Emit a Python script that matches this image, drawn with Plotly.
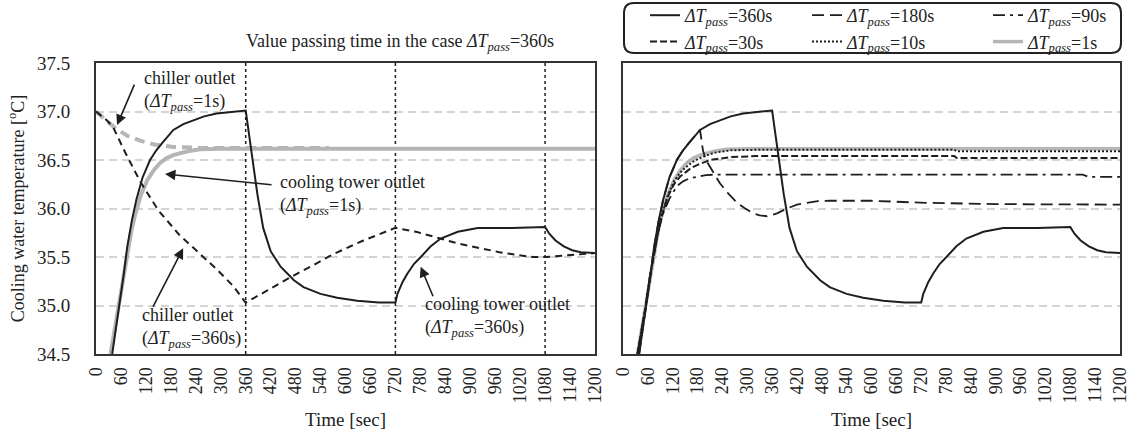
import plotly.graph_objects as go

# ---------------- data ----------------
# cooling tower outlet, dT_pass = 360 s
t_ct360 = [39, 48, 57, 66, 75, 86, 97, 112, 130, 145, 160, 186, 210, 234, 260, 290, 330, 360, 362, 375, 388, 402, 420, 444, 476, 499, 540, 580, 628, 680, 720,
           725, 737, 749, 765, 781, 805, 829, 870, 918, 1000, 1080, 1090, 1105, 1125, 1145, 1166, 1200]
T_ct360 = [34.5, 34.75, 35.0, 35.3, 35.6, 35.87, 36.09, 36.32, 36.5, 36.6, 36.68, 36.81, 36.87, 36.91, 36.95, 36.98, 37.0, 37.01, 36.95, 36.55, 36.15, 35.8, 35.56, 35.4, 35.26, 35.19, 35.12, 35.08, 35.05, 35.03, 35.03,
           35.12, 35.24, 35.33, 35.43, 35.5, 35.61, 35.69, 35.76, 35.8, 35.8, 35.81, 35.74, 35.67, 35.61, 35.57, 35.55, 35.54]
# chiller outlet, dT_pass = 360 s
t_ch360 = [0, 26, 41, 70, 106, 150, 200, 250, 291, 330, 360, 410, 467, 520, 571, 643, 720, 770, 822, 870, 925, 970, 1014, 1050, 1082, 1140, 1200]
T_ch360 = [37.0, 36.91, 36.84, 36.58, 36.28, 35.98, 35.73, 35.53, 35.37, 35.2, 35.03, 35.15, 35.29, 35.41, 35.53, 35.67, 35.8, 35.76, 35.7, 35.64, 35.59, 35.55, 35.52, 35.5, 35.5, 35.52, 35.54]
# chiller outlet, dT_pass = 1 s
t_ch1 = [0, 20, 46, 75, 106, 140, 186, 250, 560]
T_ch1 = [37.0, 36.92, 36.83, 36.75, 36.7, 36.66, 36.635, 36.625, 36.625]
# cooling tower outlet, dT_pass = 1 s
t_ct1 = [35, 45, 55, 65, 75, 85, 95, 108, 123, 138, 154, 170, 186, 220, 251, 300, 1200]
T_ct1 = [34.5, 34.75, 35.0, 35.3, 35.55, 35.77, 35.95, 36.14, 36.29, 36.39, 36.47, 36.52, 36.55, 36.59, 36.61, 36.615, 36.615]
# cooling tower outlet, dT_pass = 180 s
t_ct180 = [39, 48, 57, 66, 75, 86, 97, 112, 130, 145, 160, 186, 193, 200, 210, 222, 234, 255, 275, 295, 314, 330, 348, 372, 396, 420, 444, 470, 500, 600, 717, 900, 1200]
T_ct180 = [34.5, 34.75, 35.0, 35.3, 35.6, 35.87, 36.09, 36.32, 36.5, 36.6, 36.68, 36.81, 36.6, 36.5, 36.43, 36.34, 36.26, 36.15, 36.06, 36.0, 35.95, 35.93, 35.92, 35.95, 36.0, 36.04, 36.06, 36.075, 36.08, 36.08, 36.06, 36.045, 36.04]
# cooling tower outlet, dT_pass = 90 s
t_ct90 = [35, 45, 55, 65, 75, 85, 95, 112, 130, 145, 160, 180, 200, 230, 260, 1110, 1125, 1200]
T_ct90 = [34.5, 34.75, 35.0, 35.3, 35.55, 35.76, 35.93, 36.1, 36.23, 36.28, 36.31, 36.33, 36.345, 36.35, 36.35, 36.35, 36.325, 36.325]
# cooling tower outlet, dT_pass = 30 s
t_ct30 = [35, 45, 55, 65, 75, 85, 95, 108, 123, 138, 150, 165, 180, 210, 260, 320, 800, 806, 1200]
T_ct30 = [34.5, 34.75, 35.0, 35.3, 35.55, 35.76, 35.94, 36.12, 36.25, 36.33, 36.37, 36.42, 36.45, 36.5, 36.53, 36.54, 36.54, 36.52, 36.52]
# cooling tower outlet, dT_pass = 10 s
t_ct10 = [35, 45, 55, 65, 75, 85, 95, 108, 123, 138, 150, 168, 186, 220, 260, 320, 800, 806, 1200]
T_ct10 = [34.5, 34.75, 35.0, 35.3, 35.55, 35.77, 35.95, 36.13, 36.28, 36.37, 36.42, 36.48, 36.52, 36.575, 36.6, 36.605, 36.605, 36.59, 36.59]

pass_times = [360, 720, 1080]
x_ticks = list(range(0, 1201, 60))
y_ticks = [34.5, 35.0, 35.5, 36.0, 36.5, 37.0, 37.5]

# ---------------- styles ----------------
FONT = "Liberation Serif"
BLACK = "#1e1e1e"
GRAY = "#b5b5b5"
GRID = "#d4d4d4"

def lab(v):
    return "<i>ΔT<sub>pass</sub></i>=" + v

fig = go.Figure()

# ---- left panel ----
vx, vy = [], []
for p in pass_times:
    vx += [p, p, None]
    vy += [34.5, 37.5, None]
fig.add_trace(go.Scatter(x=vx, y=vy, mode="lines", line=dict(color=BLACK, width=1.5, dash="dot"),
                         showlegend=False, hoverinfo="skip", xaxis="x", yaxis="y"))
fig.add_trace(go.Scatter(x=t_ct1, y=T_ct1, mode="lines", line=dict(color=GRAY, width=4),
                         showlegend=False, xaxis="x", yaxis="y"))
fig.add_trace(go.Scatter(x=t_ch1, y=T_ch1, mode="lines", line=dict(color=GRAY, width=4, dash="10px,6px"),
                         showlegend=False, xaxis="x", yaxis="y"))
fig.add_trace(go.Scatter(x=t_ch360, y=T_ch360, mode="lines", line=dict(color=BLACK, width=2, dash="7px,5px"),
                         showlegend=False, xaxis="x", yaxis="y"))
fig.add_trace(go.Scatter(x=t_ct360, y=T_ct360, mode="lines", line=dict(color=BLACK, width=2),
                         showlegend=False, xaxis="x", yaxis="y"))
fig.add_trace(go.Scatter(x=pass_times, y=[37.59] * len(pass_times), mode="markers",
                         marker=dict(symbol="triangle-down", size=14, color=BLACK),
                         cliponaxis=False, showlegend=False, xaxis="x", yaxis="y"))

# ---- right panel ----
fig.add_trace(go.Scatter(x=t_ct1, y=T_ct1, mode="lines", name=lab("1s"), legend="legend3",
                         line=dict(color=GRAY, width=3.5), xaxis="x2", yaxis="y2"))
fig.add_trace(go.Scatter(x=t_ct10, y=T_ct10, mode="lines", name=lab("10s"), legend="legend2",
                         line=dict(color=BLACK, width=2, dash="2px,2px"), xaxis="x2", yaxis="y2"))
fig.add_trace(go.Scatter(x=t_ct30, y=T_ct30, mode="lines", name=lab("30s"), legend="legend",
                         line=dict(color=BLACK, width=2, dash="7px,3px"), xaxis="x2", yaxis="y2"))
fig.add_trace(go.Scatter(x=t_ct90, y=T_ct90, mode="lines", name=lab("90s"), legend="legend3",
                         line=dict(color=BLACK, width=1.8, dash="12px,5px,3px,5px"), xaxis="x2", yaxis="y2"))
fig.add_trace(go.Scatter(x=t_ct180, y=T_ct180, mode="lines", name=lab("180s"), legend="legend2",
                         line=dict(color=BLACK, width=1.8, dash="12px,6px"), xaxis="x2", yaxis="y2"))
fig.add_trace(go.Scatter(x=t_ct360, y=T_ct360, mode="lines", name=lab("360s"), legend="legend",
                         line=dict(color=BLACK, width=2), xaxis="x2", yaxis="y2"))

W, H = 1137, 436
ML, MR, MT, MB = 96, 17, 63, 82
PW = W - ML - MR
PH = H - MT - MB

def px2paper_x(px):          # screen px -> paper
    return (px - ML) / PW

def px2paper_y(py):
    return (H - MB - py) / PH

xa = dict(range=[0, 1200], tickvals=x_ticks, tickangle=-90, showgrid=False, zeroline=False,
          showline=True, mirror=True, linecolor="#333", linewidth=2,
          ticks="outside", ticklen=4, tickcolor="rgba(0,0,0,0)",
          tickfont=dict(family=FONT, size=18, color="#222"),
          title=dict(text="Time [sec]", font=dict(family=FONT, size=19, color="#222"), standoff=10))
ya = dict(range=[34.5, 37.5], tickvals=y_ticks, tickformat=".1f", showgrid=True, gridcolor=GRID,
          griddash="8px,5px", gridwidth=1.5, zeroline=False,
          showline=True, mirror=True, linecolor="#333", linewidth=2)

legend_common = dict(orientation="v", yanchor="top", xanchor="left", bgcolor="rgba(0,0,0,0)",
                     borderwidth=0, traceorder="reversed", tracegroupgap=0,
                     font=dict(family=FONT, size=18, color="#222"))
ly = px2paper_y(-3)

fig.update_layout(
    width=W, height=H,
    margin=dict(l=ML, r=MR, t=MT, b=MB, autoexpand=False),
    paper_bgcolor="white", plot_bgcolor="white",
    font=dict(family=FONT, size=17, color="#222"),
    xaxis=dict(xa, domain=[0, px2paper_x(595)], anchor="y"),
    xaxis2=dict(xa, domain=[px2paper_x(623), 1], anchor="y2"),
    yaxis=dict(ya, domain=[0, 1], anchor="x", ticks="outside", ticklen=20, tickcolor="rgba(0,0,0,0)",
               tickfont=dict(family=FONT, size=19, color="#222"),
               title=dict(text="Cooling water temperature [<sup>o</sup>C]",
                          font=dict(family=FONT, size=18, color="#222"), standoff=8)),
    yaxis2=dict(ya, domain=[0, 1], anchor="x2", showticklabels=False),
    legend=dict(legend_common, x=px2paper_x(645), y=ly),
    legend2=dict(legend_common, x=px2paper_x(807), y=ly),
    legend3=dict(legend_common, x=px2paper_x(988), y=ly),
    showlegend=True,
)

# rounded legend frame
x0, x1 = px2paper_x(624), px2paper_x(1121)
y0, y1 = px2paper_y(53), px2paper_y(3)
rx, ry = 10 / PW, 10 / PH
path = (f"M{x0+rx},{y1} L{x1-rx},{y1} Q{x1},{y1} {x1},{y1-ry} L{x1},{y0+ry} Q{x1},{y0} {x1-rx},{y0} "
        f"L{x0+rx},{y0} Q{x0},{y0} {x0},{y0+ry} L{x0},{y1-ry} Q{x0},{y1} {x0+rx},{y1} Z")
fig.add_shape(type="path", path=path, xref="paper", yref="paper", line=dict(color="#222", width=2))

# annotations (left panel)
afont = dict(family=FONT, size=18, color="#222")
fig.add_annotation(x=px2paper_x(400), y=px2paper_y(42), xref="paper", yref="paper", xanchor="center",
                   yanchor="middle", text="Value passing time in the case " + lab("360s"), showarrow=False, font=afont)
texts = [
    (111, 37.21, "chiller outlet<br>(" + lab("1s") + ")"),
    (438.6, 36.14, "cooling tower outlet<br>(" + lab("1s") + ")"),
    (106, 34.768, "chiller outlet<br>(" + lab("360s") + ")"),
    (785.5, 34.88, "cooling tower outlet<br>(" + lab("360s") + ")"),
]
for x, y, t in texts:
    fig.add_annotation(x=x, y=y, xref="x", yref="y", text=t, showarrow=False, xanchor="left",
                       yanchor="middle", align="left", font=afont)
arrows = [(50.6, 36.86, 18, -42), (166, 36.356, 108, 11), (209.6, 35.59, -31, 60), (780.7, 35.40, 13, 31)]
for x, y, ax, ay in arrows:
    fig.add_annotation(x=x, y=y, xref="x", yref="y", text="", showarrow=True, ax=ax, ay=ay,
                       arrowhead=2, arrowsize=1.3, arrowwidth=1.6, arrowcolor=BLACK, standoff=0)

# remove the browser's default 8px body margin so the figure fills the window
fig.write_html("out.html", config={"displayModeBar": False},
               post_script="document.body.style.margin='0';")
